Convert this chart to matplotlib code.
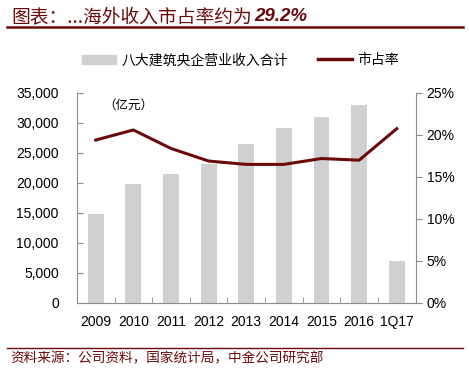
import numpy as np
import matplotlib.pyplot as plt
from matplotlib.lines import Line2D

plt.rcParams['font.family'] = ['Liberation Sans', 'Noto Sans CJK SC', 'DejaVu Sans']

# 数据
years = ['2009', '2010', '2011', '2012', '2013', '2014', '2015', '2016', '1Q17']
revenue = [14900, 19800, 21500, 23100, 26550, 29100, 31050, 33050, 7050]
share = [19.4, 20.6, 18.4, 16.9, 16.5, 16.5, 17.2, 17.0, 20.75]

bar_color = '#D0D0D0'
line_color = '#6B0A0A'
spine_color = '#8C8C8C'
cjk = ['Noto Sans CJK SC', 'DejaVu Sans']

fig = plt.figure(figsize=(4.69, 3.72), dpi=100)
ax = fig.add_axes([0.164, 0.1855, 0.722, 0.5645])
x = np.arange(len(years))

ax.bar(x, revenue, width=0.42, color=bar_color, zorder=1)
ax.set_xlim(-0.5, len(years) - 0.5)
ax.set_ylim(0, 35000)
ax.set_yticks(np.arange(0, 35001, 5000))
ax.set_yticklabels([f'{v:,}' for v in range(0, 35001, 5000)], fontsize=10)
ax.set_xticks(x)
ax.set_xticklabels(years, fontsize=10)
ax.set_xticks(np.arange(0.5, len(years) - 0.5, 1), minor=True)
ax.tick_params(axis='x', which='major', length=0, pad=9)
ax.tick_params(axis='x', which='minor', direction='in', length=4, color=spine_color)
ax.tick_params(axis='y', direction='in', length=4, color=spine_color, pad=13)

ax2 = ax.twinx()
ax2.plot(x, share, color=line_color, linewidth=2.2, zorder=3)
ax2.set_ylim(0, 25)
ax2.set_yticks(np.arange(0, 26, 5))
ax2.set_yticklabels([f'{v}%' for v in range(0, 26, 5)], fontsize=10)
ax2.tick_params(axis='y', direction='out', length=4, color=spine_color, pad=4)

for a in (ax, ax2):
    a.spines['top'].set_visible(False)
    for s in ('left', 'right', 'bottom'):
        a.spines[s].set_color(spine_color)
ax.spines['right'].set_visible(False)
ax2.spines['left'].set_visible(False)
ax2.spines['bottom'].set_visible(False)

ax.text(0.078, 0.972, '（亿元）', transform=ax.transAxes, fontsize=9,
        family=cjk, style='italic', va='top', ha='left')

# 图例
handles = [plt.Rectangle((0, 0), 1, 1, color=bar_color),
           Line2D([0], [0], color=line_color, linewidth=2.5)]
fig.legend(handles, ['八大建筑央企营业收入合计', '市占率'],
           loc='center', bbox_to_anchor=(0.513, 0.838), ncol=2, frameon=False,
           prop={'family': cjk, 'size': 10}, handlelength=2.4,
           columnspacing=2.2, handletextpad=0.4)

# 标题：中文常规，数字加粗
t1 = fig.text(0.024, 0.955, '图表：...海外收入市占率约为', fontsize=13.5,
              family=cjk, style='italic', weight='medium', color=line_color,
              va='center')
fig.canvas.draw()
bb = t1.get_window_extent()
x_end = bb.x1 / fig.bbox.width
fig.text(x_end + 0.004, 0.955, '29.2%', fontsize=13.5, style='italic',
         weight='bold', color=line_color, va='center',
         family=['Liberation Sans', 'DejaVu Sans'])

fig.add_artist(Line2D([0.015, 0.987], [0.928, 0.928], color=line_color, linewidth=1.8))
fig.add_artist(Line2D([0.015, 0.987], [0.064, 0.064], color=line_color, linewidth=1))
fig.text(0.022, 0.037, '资料来源：公司资料，国家统计局，中金公司研究部', fontsize=9.8,
         family=cjk, style='italic', color=line_color, va='center')

fig.savefig('out.png', dpi=100)
